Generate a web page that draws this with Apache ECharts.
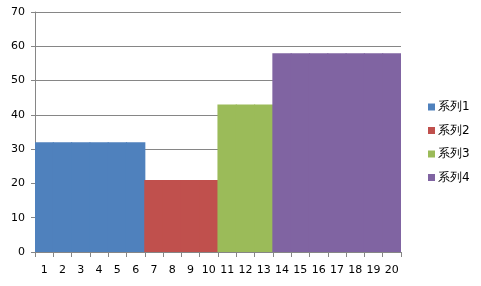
<!DOCTYPE html>
<html><head><meta charset="utf-8">
<script src="https://cdn.jsdelivr.net/npm/echarts@6/dist/echarts.min.js"></script>
<style>html,body{margin:0;padding:0;background:#fff}#c{width:481px;height:286px}</style>
</head><body><div id="c"></div>
<script>
const categories = ['1','2','3','4','5','6','7','8','9','10','11','12','13','14','15','16','17','18','19','20'];
const seriesNames = ['系列1','系列2','系列3','系列4'];
const s1 = [32,32,32,32,32,32,'-','-','-','-','-','-','-','-','-','-','-','-','-','-'];
const s2 = ['-','-','-','-','-','-',21,21,21,21,'-','-','-','-','-','-','-','-','-','-'];
const s3 = ['-','-','-','-','-','-','-','-','-','-',43,43,43,'-','-','-','-','-','-','-'];
const s4 = ['-','-','-','-','-','-','-','-','-','-','-','-','-',58,58,58,58,58,58,58];
const colors = ['#4F81BD','#C0504D','#9BBB59','#8064A2'];
const yTicks = {min:0, max:70, interval:10};

const font = 'DejaVu Sans';
const chart = echarts.init(document.getElementById('c'));
const data = [s1,s2,s3,s4];
chart.setOption({
  animation:false,
  color: colors,
  textStyle:{fontFamily:font},
  grid:{left:35,right:80,top:12,bottom:34},
  legend:{
    orient:'vertical', left:423, top:96, itemWidth:7, itemHeight:7, itemGap:11.5,
    icon:'rect', data:seriesNames,
    textStyle:{fontFamily:font,fontSize:12,color:'#000',padding:[0,0,0,-2]}
  },
  xAxis:{
    type:'category', data:categories, boundaryGap:true,
    axisLine:{lineStyle:{color:'#868686'}},
    axisTick:{show:true,length:5,lineStyle:{color:'#868686'}},
    splitLine:{show:false},
    axisLabel:{fontFamily:font,fontSize:11,color:'#000',margin:13,interval:0}
  },
  yAxis:{
    type:'value', min:yTicks.min, max:yTicks.max, interval:yTicks.interval,
    axisLine:{show:true,lineStyle:{color:'#868686'}},
    axisTick:{show:true,length:4,lineStyle:{color:'#868686'}},
    splitLine:{lineStyle:{color:'#868686'}},
    axisLabel:{fontFamily:font,fontSize:11,color:'#000',margin:10}
  },
  series: seriesNames.map((n,i)=>({
    name:n, type:'bar', stack:'a', data:data[i], barWidth:'106%'
  }))
});
</script></body></html>
